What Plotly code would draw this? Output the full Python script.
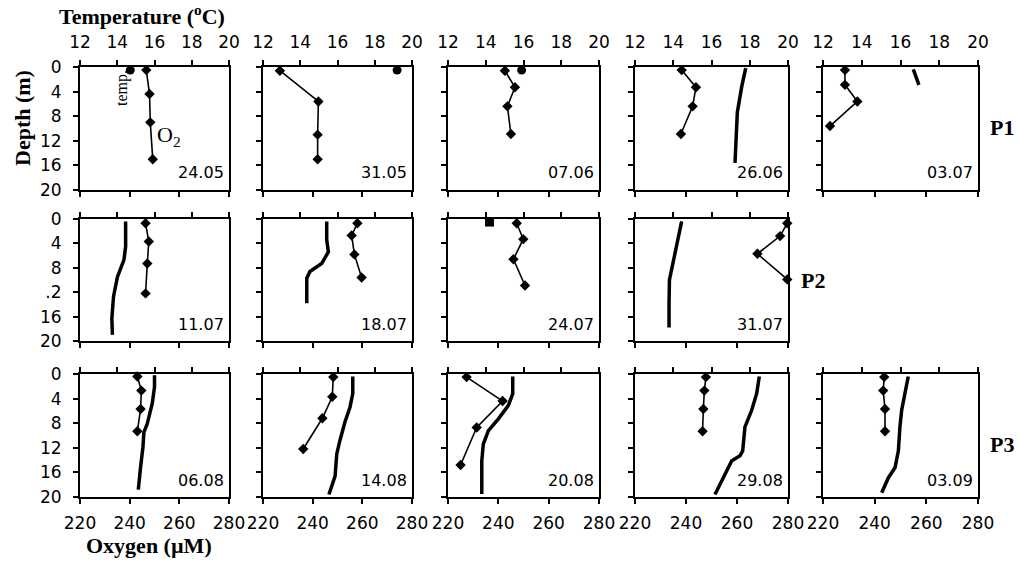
import plotly.graph_objects as go

# ---------------- data ----------------
dates = ["24.05", "31.05", "07.06", "26.06", "03.07",
         "11.07", "18.07", "24.07", "31.07",
         "06.08", "14.08", "20.08", "29.08", "03.09"]
panel_row = [0, 0, 0, 0, 0, 1, 1, 1, 1, 2, 2, 2, 2, 2]
panel_col = [0, 1, 2, 3, 4, 0, 1, 2, 3, 0, 1, 2, 3, 4]
station_labels = ["P1", "P2", "P3"]

# Oxygen (µM), discrete samples (diamonds)
o2_values = [
    [246.7, 248.0, 248.3, 249.3],
    [226.8, 242.3, 242.0, 242.0],
    [242.6, 246.6, 243.6, 245.0],
    [238.3, 243.9, 242.6, 238.0],
    [228.5, 228.5, 233.3, 222.7],
    [246.4, 247.7, 247.1, 246.4],
    [258.0, 255.7, 256.8, 259.7],
    [247.3, 249.9, 246.0, 250.6],
    [279.7, 276.9, 268.0, 279.7],
    [243.1, 244.7, 244.4, 243.1],
    [248.3, 247.9, 243.9, 236.2],
    [227.4, 241.7, 231.4, 225.0],
    [247.8, 247.2, 246.8, 246.5],
    [243.7, 243.3, 244.0, 244.0],
]
o2_depths = [
    [0.5, 4.4, 9.0, 15.0],
    [0.6, 5.6, 11.0, 15.0],
    [0.6, 3.3, 6.4, 10.9],
    [0.5, 3.3, 6.4, 10.9],
    [0.5, 2.9, 5.6, 9.6],
    [0.7, 3.7, 7.3, 12.2],
    [0.7, 2.7, 5.8, 9.6],
    [0.7, 3.3, 6.6, 10.9],
    [0.7, 2.8, 5.7, 9.9],
    [0.4, 2.7, 5.7, 9.3],
    [0.5, 3.7, 7.2, 12.2],
    [0.5, 4.4, 8.7, 14.8],
    [0.5, 2.7, 5.7, 9.3],
    [0.5, 2.7, 5.7, 9.3],
]

# Temperature (°C), continuous profiles (thick line)
temp_values = [
    [14.7],
    [19.2],
    [15.9],
    [17.79, 17.58, 17.35, 17.27, 17.23],
    [16.66, 16.95],
    [14.45, 14.45, 14.36, 14.01, 13.80, 13.71, 13.74],
    [15.42, 15.42, 15.51, 15.15, 14.52, 14.35, 14.35],
    [14.2],
    [14.44, 14.27, 14.04, 13.80, 13.78, 13.78],
    [16.0, 16.0, 15.88, 15.61, 15.43, 15.38, 15.25, 15.13],
    [16.82, 16.82, 16.67, 16.40, 16.13, 15.96, 15.87, 15.54],
    [15.43, 15.43, 15.20, 14.67, 14.14, 13.87, 13.79, 13.79],
    [18.50, 18.36, 18.10, 17.75, 17.63, 17.49, 17.06, 16.71, 16.18],
    [16.40, 16.23, 16.06, 15.97, 15.89, 15.72, 15.37, 15.03],
]
temp_depths = [
    [0.5],
    [0.5],
    [0.5],
    [0.2, 3.2, 7.4, 12.0, 15.6],
    [0.4, 2.9],
    [0.4, 4.5, 6.7, 9.5, 12.7, 16.3, 19.0],
    [0.4, 3.4, 5.4, 7.3, 8.6, 9.7, 13.8],
    [0.5],
    [0.4, 2.9, 6.2, 10.0, 13.8, 17.8],
    [0.2, 2.1, 4.8, 8.1, 9.5, 11.9, 15.2, 18.8],
    [0.4, 3.2, 5.4, 7.8, 10.8, 13.0, 16.6, 19.6],
    [0.4, 3.2, 5.1, 7.3, 9.2, 11.4, 14.1, 19.5],
    [0.4, 3.2, 5.9, 8.6, 12.5, 13.3, 14.1, 16.3, 19.6],
    [0.4, 3.2, 5.9, 8.6, 12.5, 15.2, 16.9, 19.3],
]

temp_ticks = [12, 14, 16, 18, 20]
o2_ticks = [220, 240, 260, 280]
depth_ticks = [0, 4, 8, 12, 16, 20]
depth_ticktext = [
    ["0", "4", "8", "12", "16", "20"],
    ["0", "4", "8", ".2", "16", "20"],
    ["0", "4", "8", "12", "16", "20"],
]

# ---------------- layout geometry (pixels) ----------------
W, H = 1019, 562
col_px = [(80, 229), (263, 412), (448, 599), (635, 788), (823, 978)]
row_px = [(67, 190), (219, 341), (374, 497)]

TICKFONT = dict(family="DejaVu Sans", size=17, color="black")
SERIF = "Liberation Serif"


def akey(prefix, i):
    return f"{prefix}axis" if i == 1 else f"{prefix}axis{i}"


def aref(prefix, i):
    return prefix if i == 1 else f"{prefix}{i}"


fig = go.Figure()
layout_axes = {}
annotations = []
n = len(dates)

common = dict(showgrid=False, zeroline=False, fixedrange=True, automargin=False,
              linecolor="black", tickcolor="black", tickwidth=2, ticklen=5)

for k in range(n):
    r, c = panel_row[k], panel_col[k]
    L, R = col_px[c]
    T, B = row_px[r]
    xd = [L / W, R / W]
    yd = [1 - B / H, 1 - T / H]

    io, it, iy = 2 * k + 1, 2 * k + 2, k + 1
    io_in, it_in, iy_in = 2 * n + 2 * k + 1, 2 * n + 2 * k + 2, n + k + 1

    # oxygen axis (bottom)
    layout_axes[akey("x", io)] = dict(
        common, domain=xd, range=[220, 280], anchor=aref("y", iy), side="bottom",
        showline=True, linewidth=2, ticks="outside", tickmode="array",
        tickvals=o2_ticks, showticklabels=(r == 2), tickfont=TICKFONT,
        ticklabelstandoff=5)
    # temperature axis (top)
    layout_axes[akey("x", it)] = dict(
        common, overlaying=aref("x", io), range=[12, 20], anchor=aref("y", iy),
        side="top", showline=True, linewidth=2, ticks="outside", tickmode="array",
        tickvals=temp_ticks, showticklabels=(r == 0), tickfont=TICKFONT,
        ticklabelstandoff=5)
    # depth axis
    layout_axes[akey("y", iy)] = dict(
        common, domain=yd, range=[20, 0], anchor=aref("x", io), side="left",
        showline=True, linewidth=2, mirror=True, ticks="outside",
        tickmode="array", tickvals=depth_ticks, ticktext=depth_ticktext[r],
        showticklabels=(c == 0), tickfont=TICKFONT, ticklabelstandoff=8)
    # inner tick axes (to make ticks cross the frame lines)
    layout_axes[akey("x", io_in)] = dict(
        common, overlaying=aref("x", io), range=[220, 280], anchor=aref("y", iy),
        side="bottom", showline=False, ticks="inside", tickmode="array",
        tickvals=o2_ticks, showticklabels=False)
    layout_axes[akey("x", it_in)] = dict(
        common, overlaying=aref("x", io), range=[12, 20], anchor=aref("y", iy),
        side="top", showline=False, ticks="inside", tickmode="array",
        tickvals=temp_ticks, showticklabels=False)
    layout_axes[akey("y", iy_in)] = dict(
        common, overlaying=aref("y", iy), range=[20, 0], anchor=aref("x", io),
        side="left", showline=False, ticks="inside", tickmode="array",
        tickvals=depth_ticks, showticklabels=False)

    # oxygen trace
    fig.add_trace(go.Scatter(
        x=o2_values[k], y=o2_depths[k], xaxis=aref("x", io), yaxis=aref("y", iy),
        mode="lines+markers", line=dict(color="black", width=1.6),
        marker=dict(symbol="diamond", size=8, color="black"),
        cliponaxis=False, showlegend=False, hoverinfo="skip"))
    # temperature trace
    if len(temp_values[k]) == 1:
        fig.add_trace(go.Scatter(
            x=temp_values[k], y=temp_depths[k], xaxis=aref("x", it),
            yaxis=aref("y", iy), mode="markers",
            marker=dict(symbol="square" if k == 7 else "circle", size=9,
                        color="black"),
            cliponaxis=False, showlegend=False, hoverinfo="skip"))
    else:
        fig.add_trace(go.Scatter(
            x=temp_values[k], y=temp_depths[k], xaxis=aref("x", it),
            yaxis=aref("y", iy), mode="lines",
            line=dict(color="black", width=3.5),
            cliponaxis=False, showlegend=False, hoverinfo="skip"))

    # date label
    annotations.append(dict(
        text=dates[k], xref="paper", yref="paper", x=(R - 3) / W,
        y=1 - (B - 17) / H, xanchor="right", yanchor="middle", showarrow=False,
        font=dict(family="DejaVu Sans", size=16, color="black")))


def add_text(text, x, y, size, family=SERIF, angle=0, xanchor="center"):
    annotations.append(dict(
        text=text, xref="paper", yref="paper", x=x / W, y=1 - y / H,
        xanchor=xanchor, yanchor="middle", showarrow=False, textangle=angle,
        font=dict(family=family, size=size, color="black")))


add_text("<b>Temperature (<sup>o</sup>C)</b>", 142, 15, 22)
add_text("<b>Depth (m)</b>", 22, 118, 22, angle=-90)
add_text("<b>Oxygen (µM)</b>", 149, 545, 22)
add_text(f"<b>{station_labels[0]}</b>", 1002, 127, 22)
add_text(f"<b>{station_labels[1]}</b>", 813, 280, 22)
add_text(f"<b>{station_labels[2]}</b>", 1002, 445, 22)
add_text("temp.", 122, 88, 16, angle=-90)
add_text("O<sub>2</sub>", 169, 136, 22)

fig.update_layout(
    template="none",
    width=W, height=H, autosize=False,
    margin=dict(l=0, r=0, t=0, b=0, pad=0),
    paper_bgcolor="white", plot_bgcolor="rgba(0,0,0,0)",
    annotations=annotations, **layout_axes)

fig.write_html(
    "out.html",
    config={"displayModeBar": False},
    post_script="document.body.style.margin='0px';document.body.style.padding='0px';")
